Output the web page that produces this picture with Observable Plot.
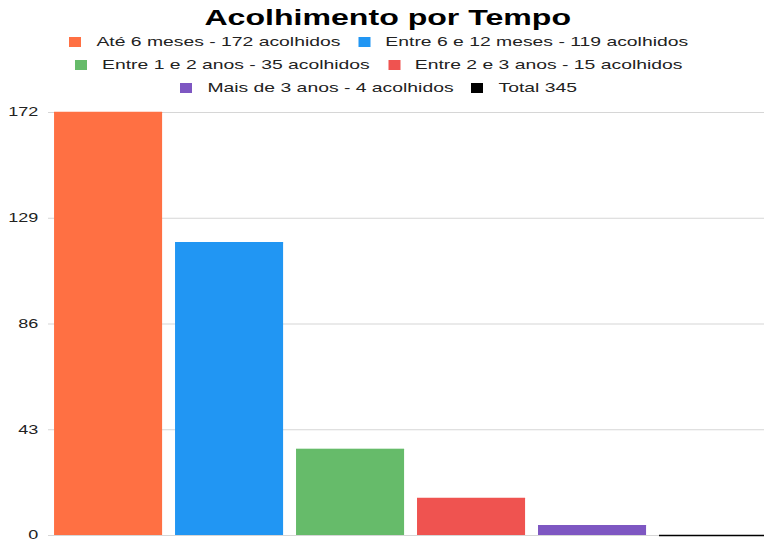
<!DOCTYPE html>
<html>
<head>
<meta charset="utf-8">
<script src="https://cdn.jsdelivr.net/npm/d3@7"></script>
<script src="https://cdn.jsdelivr.net/npm/@observablehq/plot@0.6"></script>
<style>
  html, body { margin: 0; padding: 0; background: #fff; overflow: hidden; width: 764px; height: 541px; }
  #stage { position: absolute; left: 0; top: 0; width: 517px; height: 541px; transform: scaleX(1.5); transform-origin: 0 0; font-family: "Liberation Sans", Arial, sans-serif; }
  #title { position: absolute; top: 4px; left: 4px; width: 509px; text-align: center; font-weight: bold; font-size: 21.4px; line-height: 28px; color: #000; }
  .row { position: absolute; left: 0; width: 505px; height: 23px; display: flex; justify-content: center; align-items: center; font-size: 12.9px; color: #222; }
  .item { display: flex; align-items: center; margin: 0 6px; }
  .sw { width: 8px; height: 10px; margin-right: 10px; }
  #chart { position: absolute; top: 100px; left: 0; }
</style>
</head>
<body>
<div id="stage">
  <div id="title">Acolhimento por Tempo</div>
  <div id="legend"></div>
  <div id="chart"></div>
</div>
<script>
const categories = ["Até 6 meses", "Entre 6 e 12 meses", "Entre 1 e 2 anos", "Entre 2 e 3 anos", "Mais de 3 anos", "Total"];
const legendLabels = ["Até 6 meses - 172 acolhidos", "Entre 6 e 12 meses - 119 acolhidos", "Entre 1 e 2 anos - 35 acolhidos", "Entre 2 e 3 anos - 15 acolhidos", "Mais de 3 anos - 4 acolhidos", "Total 345"];
const values = [172, 119, 35, 15, 4, 0];
const colors = ["#FF7043", "#2196F3", "#66BB6A", "#EF5350", "#7E57C2", "#000000"];
const yTicks = [0, 43, 86, 129, 172];

// legend, two items per row
const legend = document.getElementById("legend");
for (let r = 0; r < 3; r++) {
  const row = document.createElement("div");
  row.className = "row";
  row.style.top = (30 + r * 23) + "px";
  for (let k = 0; k < 2; k++) {
    const i = r * 2 + k;
    const item = document.createElement("div");
    item.className = "item";
    const sw = document.createElement("span");
    sw.className = "sw";
    sw.style.background = colors[i];
    const tx = document.createElement("span");
    tx.textContent = legendLabels[i];
    item.appendChild(sw);
    item.appendChild(tx);
    row.appendChild(item);
  }
  legend.appendChild(row);
}

const data = categories.map((c, i) => ({category: c, value: values[i], color: colors[i]}));

const chart = Plot.plot({
  width: 517,
  height: 441,
  marginLeft: 32,
  marginRight: 1.6,
  marginTop: 12,
  marginBottom: 6,
  style: {fontFamily: "Liberation Sans, Arial, sans-serif", fontSize: "12px", color: "#333", background: "#fff"},
  x: {domain: categories, paddingInner: 0.107, paddingOuter: 0.05, round: false, axis: null},
  y: {domain: [0, 172], ticks: yTicks, label: null, tickSize: 0, tickPadding: 7, grid: false},
  marks: [
    Plot.gridY(yTicks, {stroke: "#d6d6d6", strokeOpacity: 1, strokeWidth: 1}),
    Plot.barY(data, {x: "category", y: "value", fill: "color", inset: 0}),
    Plot.tickY(data, {x: "category", y: "value", stroke: "color", strokeWidth: 1.5}),
    Plot.axisY(yTicks, {tickSize: 0, tickPadding: 7, label: null, fontSize: 12, fill: "#222"})
  ]
});
document.getElementById("chart").appendChild(chart);
</script>
</body>
</html>
